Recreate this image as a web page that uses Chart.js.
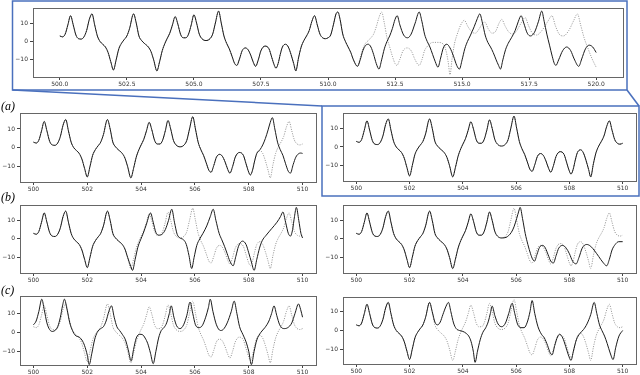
<!DOCTYPE html>
<html>
<head>
<meta charset="utf-8">
<script src="https://cdn.jsdelivr.net/npm/chart.js@4.4.0/dist/chart.umd.min.js"></script>
<style>
  body { margin: 0; width: 640px; height: 375px; background: #fff; position: relative; overflow: hidden; }
  canvas { position: absolute; }
  .lab { position: absolute; font: italic 12px "Liberation Serif", serif; color: #000; line-height: 12px; z-index: 2; }
  svg { position: absolute; left: 0; top: 0; }
</style>
</head>
<body>

<div class="lab" style="left:1px;top:100px">(a)</div>
<div class="lab" style="left:1px;top:191px">(b)</div>
<div class="lab" style="left:1px;top:284px">(c)</div>

<script>
// tick values
const topTicks = [500, 502.5, 505, 507.5, 510, 512.5, 515, 517.5, 520];
const subTicks = [500, 502, 504, 506, 508, 510];
const yTicks = [-10, 0, 10];

// true signal, 500..510  [t, x]
const truthA = [
  [500.0,3],[500.1,2.5],[500.2,4],[500.3,9],[500.4,14],[500.5,9],[500.6,3.5],[500.7,1.5],[500.8,1.3],[500.9,2.5],
  [501.0,6],[501.1,12],[501.2,15],[501.3,9],[501.4,3],[501.5,0],[501.6,-1.5],[501.7,-3],[501.8,-6],[501.9,-11],
  [502.0,-15.5],[502.1,-10],[502.2,-4],[502.3,-1],[502.4,1],[502.5,3],[502.6,7],[502.75,15],[502.85,10],[502.95,3],
  [503.05,0.5],[503.15,-1],[503.3,-3],[503.4,-5.5],[503.5,-10],[503.62,-16],[503.72,-11],[503.82,-5],[503.92,-1],
  [504.0,1.5],[504.1,4.5],[504.2,9],[504.3,13.5],[504.4,9.5],[504.5,4],[504.6,2],[504.7,2],[504.8,4],[504.9,9],
  [505.0,14.5],[505.1,10],[505.2,4],[505.3,1.5],[505.45,0.5],[505.6,1.5],[505.7,4],[505.8,10],[505.92,16.5],
  [506.02,10],[506.12,3],[506.22,-1],[506.32,-4],[506.42,-8],[506.52,-12],[506.6,-13],[506.7,-9.5],[506.8,-5],
  [506.92,-3.5],[507.02,-4.5],[507.12,-7.5],[507.22,-11.5],[507.3,-13.5],[507.4,-10],[507.5,-5],[507.65,-2.5],
  [507.8,-4],[507.9,-8.5],[508.0,-13],[508.06,-14.5],[508.14,-12],[508.22,-7],[508.3,-3],[508.42,-1.5],[508.52,-3],
  [508.62,-7],[508.72,-12],[508.8,-16],[508.9,-9],[509.0,-3],[509.1,0.5],[509.2,3],[509.3,6],[509.4,11],[509.5,14],
  [509.6,9],[509.7,4],[509.8,2],[509.9,1.5],[510.0,2]
];

// true signal, 510..520 (top panel only)
const truthB = [
  [510.1,3.5],[510.2,9],[510.3,15],[510.37,16],[510.45,12],[510.55,4],[510.65,0],[510.75,-3],[510.85,-6],[510.95,-10],
  [511.1,-13.5],[511.2,-9],[511.3,-4],[511.4,-1],[511.5,0.5],[511.6,2],[511.7,4],[511.8,8],[511.9,13],[512.0,16],
  [512.1,10],[512.2,2],[512.3,-3],[512.4,-8],[512.5,-12],[512.57,-13],[512.67,-10],[512.8,-5],[512.95,-3.5],
  [513.1,-5],[513.25,-10],[513.4,-13],[513.5,-10],[513.6,-5],[513.75,-2],[513.9,-0.5],[514.1,-0.5],[514.3,-1.5],
  [514.4,-5],[514.48,-11],[514.55,-18],[514.63,-9],[514.72,-1],[514.82,4],[514.95,9],[515.08,11.5],[515.22,8],
  [515.38,5],[515.5,4.5],[515.62,6.5],[515.75,9.5],[515.85,10.5],[515.97,7],[516.12,4.5],[516.25,5.5],[516.38,10],
  [516.48,12],[516.6,8.5],[516.75,5],[516.9,4],[517.02,5.5],[517.2,10],[517.35,13],[517.48,8.5],[517.62,4.5],
  [517.78,3.5],[517.98,6],[518.2,11],[518.35,14],[518.48,8.5],[518.62,4],[518.78,3],[518.98,6],[519.15,11],
  [519.3,15],[519.42,9],[519.55,2],[519.7,-4],[519.85,-9.5],[520.0,-14]
];

// predictions: where they leave the true signal
const topTail = [
  [511.2,-10],[511.3,-5],[511.4,-2.2],[511.5,-1.5],[511.6,-3],[511.7,-7],[511.8,-12],[511.9,-15],[512.0,-10],
  [512.1,-4],[512.2,0],[512.3,3],[512.4,7],[512.5,12],[512.58,14],[512.68,9],[512.82,3.5],[512.97,2],[513.1,4],
  [513.25,10],[513.4,16],[513.5,11],[513.6,4],[513.7,0],[513.8,-3],[513.9,-7],[514.0,-11],[514.1,-14],[514.2,-9],
  [514.3,-3.5],[514.43,-1.5],[514.55,-3.5],[514.68,-8],[514.8,-13],[514.9,-15],[515.0,-10],[515.1,-4],[515.2,0],
  [515.3,3],[515.45,8],[515.57,12.5],[515.66,15],[515.76,10],[515.86,3.5],[515.96,-0.5],[516.06,-3],[516.16,-6],
  [516.27,-10],[516.36,-13],[516.43,-15],[516.52,-10],[516.62,-4.5],[516.72,-1],[516.84,2],[516.98,6],[517.1,11],
  [517.2,14],[517.3,10],[517.43,4.5],[517.55,3],[517.7,5],[517.85,11],[517.97,16.5],[518.06,11],[518.16,4],
  [518.26,-2],[518.36,-8],[518.44,-12],[518.5,-13],[518.6,-10],[518.75,-5],[518.9,-3],[519.05,-5],[519.18,-9.5],
  [519.35,-13.5],[519.46,-9.5],[519.6,-4],[519.74,-2],[519.87,-3],[520.0,-6]
];

const aLeftTail = [
  [508.42,-1],[508.52,1.5],[508.62,5],[508.72,9.5],[508.8,13.5],[508.88,16],[508.97,10],[509.07,3],[509.17,-1],
  [509.27,-4],[509.37,-8.5],[509.47,-12.5],[509.55,-13.5],[509.65,-9],[509.75,-5],[509.85,-3.2],[509.93,-2.8],[510.0,-3]
];

const bLeftTail = [
  [503.62,-15],[503.68,-17],[503.78,-11],[503.88,-4.5],[503.98,-0.5],[504.08,3],[504.2,8],[504.35,14],[504.45,9],
  [504.55,3.5],[504.65,2],[504.78,2.5],[504.9,5],[505.02,10],[505.14,16],[505.24,9],[505.34,2.5],[505.45,0.5],
  [505.58,-0.5],[505.68,-3],[505.78,-9],[505.88,-16],[505.97,-10],[506.07,-3.5],[506.18,0],[506.3,3],[506.44,7],
  [506.57,12],[506.68,16],[506.78,10],[506.9,3],[507.0,-0.5],[507.1,-4],[507.2,-8],[507.3,-12],[507.42,-14.5],
  [507.52,-9.5],[507.62,-4],[507.77,-1.2],[507.9,-3],[508.0,-7.5],[508.1,-12.5],[508.2,-17],[508.3,-11],[508.4,-5],
  [508.5,-1],[508.65,2],[508.85,5.5],[509.05,9],[509.18,12],[509.27,14.5],[509.37,9],[509.47,3],[509.55,1.5],
  [509.63,5],[509.7,12],[509.77,17],[509.86,10],[509.94,3],[510.0,0.5]
];

const bRightTail = [
  [505.62,0.8],[505.72,1.8],[505.82,3.5],[505.92,6.5],[506.02,11],[506.1,15],[506.15,17],[506.24,11],[506.34,3],
  [506.44,-3],[506.54,-8],[506.62,-11],[506.69,-12],[506.78,-8.5],[506.88,-4.5],[507.0,-3.5],[507.1,-5],[507.2,-8.5],
  [507.3,-12],[507.4,-13],[507.5,-9],[507.6,-5],[507.75,-3.5],[507.88,-5],[508.0,-8],[508.12,-12],[508.25,-13.5],
  [508.36,-10],[508.48,-5],[508.65,-3],[508.8,-4],[508.95,-6.5],[509.1,-9.5],[509.25,-12.5],[509.4,-14.5],
  [509.5,-11],[509.6,-6],[509.72,-3],[509.85,-1.5],[510.0,-1.5]
];

const cLeftPred = [
  [500.0,4],[500.1,6],[500.2,11],[500.31,17.5],[500.4,12],[500.5,5],[500.6,1.5],[500.7,0.5],[500.8,1],[500.9,3],
  [501.0,8],[501.08,14],[501.15,17.5],[501.25,12],[501.35,5],[501.45,1],[501.55,-1.5],[501.7,-2.5],[501.8,-4],
  [501.9,-7],[502.0,-12],[502.07,-17],[502.17,-11],[502.27,-4],[502.37,0],[502.5,2],[502.6,3],[502.7,6],[502.8,11],
  [502.9,14],[503.0,8],[503.1,3],[503.2,1],[503.3,-1],[503.42,-4],[503.52,-9],[503.63,-15],[503.72,-9],[503.82,-3],
  [503.95,-1],[504.05,-1.2],[504.15,-3],[504.25,-6],[504.35,-11],[504.45,-16.5],[504.55,-10],[504.65,-3],[504.75,1],
  [504.85,2.5],[504.95,5],[505.05,10],[505.12,14],[505.22,8],[505.32,3.5],[505.45,2],[505.58,4],[505.7,9],
  [505.82,16],[505.92,10],[506.02,4],[506.15,2.5],[506.27,3.5],[506.4,8],[506.5,13],[506.57,17.5],[506.67,11],
  [506.8,4],[506.95,1],[507.05,1.5],[507.2,5],[507.35,11],[507.46,16.5],[507.56,10],[507.66,3],[507.78,-1],
  [507.9,-5],[508.0,-10],[508.1,-17],[508.2,-10],[508.3,-4],[508.45,0],[508.6,2.5],[508.75,6],[508.85,10],
  [508.94,14],[509.04,9],[509.15,4],[509.3,2],[509.45,2.5],[509.6,5],[509.72,10],[509.85,15],[509.93,12],[510.0,8]
];

const cRightTail = [
  [502.85,10],[502.95,4.5],[503.05,3],[503.15,4.5],[503.25,8.5],[503.37,13],[503.46,15],[503.55,10],[503.65,4],
  [503.75,1],[503.87,0],[504.0,-0.5],[504.12,-1.5],[504.22,-3],[504.31,-6],[504.39,-11],[504.46,-17],[504.55,-11],
  [504.65,-5],[504.75,-1],[504.86,1.5],[504.96,5],[505.03,9],[505.1,13],[505.2,8],[505.32,3.5],[505.46,2],[505.6,4],
  [505.72,9],[505.85,14.5],[505.95,9],[506.05,3.5],[506.18,1.5],[506.3,1.5],[506.42,4.5],[506.52,10],[506.6,16],
  [506.7,9],[506.82,2],[506.95,-2],[507.06,-4],[507.18,-8],[507.28,-12],[507.35,-13],[507.45,-8],[507.55,-3.5],
  [507.63,-2],[507.75,-4],[507.86,-8.5],[507.96,-13],[508.06,-16],[508.15,-11],[508.26,-5],[508.4,-1.5],[508.53,0.5],
  [508.66,3.5],[508.8,8.5],[508.93,15],[509.03,9],[509.13,3],[509.22,0],[509.32,-3],[509.42,-7],[509.53,-12],
  [509.64,-15.5],[509.74,-9],[509.86,-3],[510.0,0]
];

const upTo = (arr, t) => arr.filter(p => p[0] <= t);
const toXY = arr => arr.map(p => ({ x: p[0], y: p[1] }));

const truthAll = truthA.concat(truthB);

// box = axes area in page pixels [left, top, right, bottom]
const panels = [
  { box: [33, 5, 623, 76.5], x: [499, 521], y: [-19.3, 18.4], xt: topTicks, dec: true,
    truth: truthAll, pred: upTo(truthAll, 511.1).concat(topTail) },
  { box: [20, 109.5, 316, 181], x: [499.5, 510.5], y: [-18.2, 18.7], xt: subTicks,
    truth: truthA, pred: upTo(truthA, 508.3).concat(aLeftTail) },
  { box: [342.7, 110, 636, 181], x: [499.5, 510.5], y: [-18.2, 18.4], xt: subTicks,
    truth: truthA, pred: truthA },
  { box: [20, 201.7, 316, 272.7], x: [499.5, 510.5], y: [-18.4, 18.5], xt: subTicks,
    truth: truthA, pred: upTo(truthA, 503.5).concat(bLeftTail) },
  { box: [342.7, 201.7, 636, 272.7], x: [499.5, 510.5], y: [-18.4, 18.5], xt: subTicks,
    truth: truthA, pred: upTo(truthA, 505.5).concat(bRightTail) },
  { box: [20, 292.7, 316, 364.3], x: [499.5, 510.5], y: [-17.2, 19.4], xt: subTicks,
    truth: truthA, pred: cLeftPred },
  { box: [342.7, 294, 636, 364.3], x: [499.5, 510.5], y: [-17.9, 18.1], xt: subTicks,
    truth: truthA, pred: upTo(truthA, 502.75).concat(cRightTail) }
];

// full rectangle round the axes, like matplotlib spines
const frame = {
  id: 'frame',
  afterDraw (chart) {
    const a = chart.chartArea, ctx = chart.ctx;
    ctx.save();
    ctx.strokeStyle = '#666';
    ctx.lineWidth = 1;
    ctx.strokeRect(Math.round(a.left) + 0.5, Math.round(a.top) + 0.5,
      Math.round(a.right - a.left), Math.round(a.bottom - a.top));
    ctx.restore();
  }
};

const tickFont = { family: 'DejaVu Sans', size: 6 };

function makePanel (p) {
  const yw = 26, pt = 3, pr = 4, xh = 14;
  const [L, T, R, B] = p.box;
  const c = document.createElement('canvas');
  c.width = Math.round(R - L + yw + pr);
  c.height = Math.round(B - T + pt + xh);
  c.style.left = (L - yw) + 'px';
  c.style.top = (T - pt) + 'px';
  document.body.appendChild(c);

  new Chart(c, {
    type: 'line',
    data: {
      datasets: [
        { data: toXY(p.pred), borderColor: '#1a1a1a', borderWidth: 1, pointRadius: 0,
          cubicInterpolationMode: 'monotone' },
        { data: toXY(p.truth), borderColor: '#999', borderWidth: 1, borderDash: [1.1, 1.3],
          pointRadius: 0, cubicInterpolationMode: 'monotone' }
      ]
    },
    options: {
      responsive: false,
      animation: false,
      events: [],
      layout: { padding: { top: pt, right: pr, left: 0, bottom: 0 } },
      plugins: { legend: { display: false }, tooltip: { enabled: false } },
      scales: {
        x: {
          type: 'linear', min: p.x[0], max: p.x[1],
          afterBuildTicks: s => { s.ticks = p.xt.map(v => ({ value: v })); },
          afterFit: s => { s.height = xh; },
          ticks: { autoSkip: false, maxRotation: 0, padding: 1, color: '#333', font: tickFont,
            callback: v => p.dec ? v.toFixed(1) : String(v) },
          grid: { drawOnChartArea: false, tickLength: 3, color: '#444' },
          border: { display: false }
        },
        y: {
          type: 'linear', min: p.y[0], max: p.y[1],
          afterBuildTicks: s => { s.ticks = yTicks.map(v => ({ value: v })); },
          afterFit: s => { s.width = yw; },
          ticks: { padding: 2, color: '#333', font: tickFont,
            callback: v => v < 0 ? '\u2212' + Math.abs(v) : String(v) },
          grid: { drawOnChartArea: false, tickLength: 3, color: '#444' },
          border: { display: false }
        }
      }
    },
    plugins: [frame]
  });
}

panels.forEach(makePanel);
</script>

<!-- blue zoom annotation -->
<svg width="640" height="375">
  <g fill="none" stroke="#4a70bd" stroke-width="1.5">
    <rect x="12.5" y="1" width="614.5" height="89"/>
    <rect x="322" y="106" width="317" height="90"/>
    <line x1="12.5" y1="90" x2="322" y2="106"/>
    <line x1="627" y1="90" x2="639" y2="106"/>
  </g>
</svg>

</body>
</html>
